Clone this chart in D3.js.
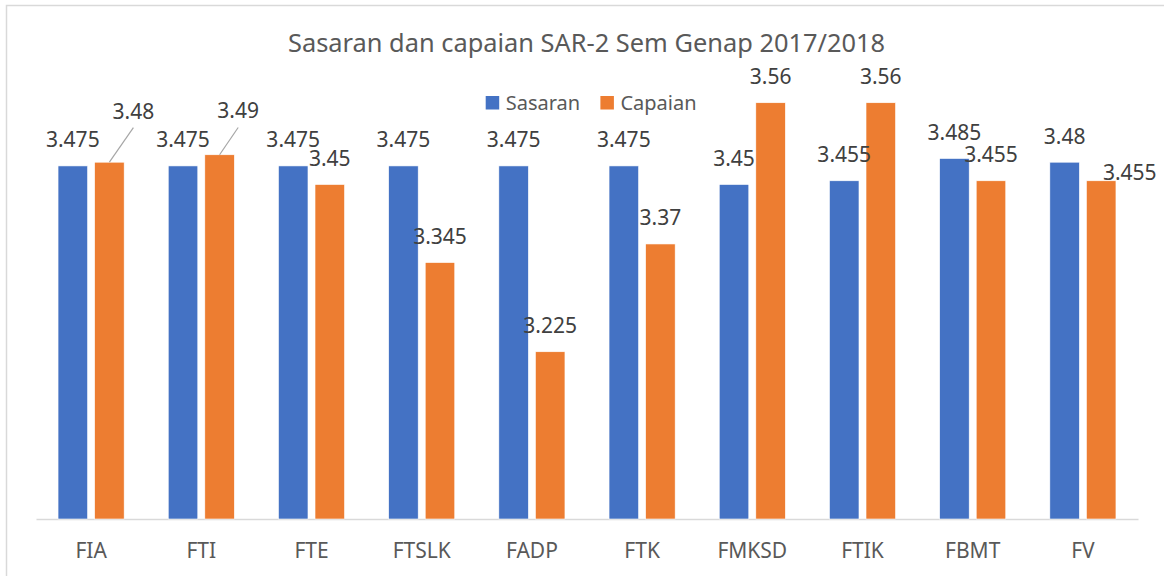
<!DOCTYPE html>
<html>
<head>
<meta charset="utf-8">
<script src="https://cdn.jsdelivr.net/npm/d3@7"></script>
<style>
  html, body { margin: 0; padding: 0; background: #fff; }
  svg { display: block; font-family: "Noto Sans", sans-serif; }
</style>
</head>
<body>
<div id="diagram"></div>
<script>
// data
const categories = ['FIA', 'FTI', 'FTE', 'FTSLK', 'FADP', 'FTK', 'FMKSD', 'FTIK', 'FBMT', 'FV'];
const seriesNames = ['Sasaran', 'Capaian'];
const sasaran = [3.475, 3.475, 3.475, 3.475, 3.475, 3.475, 3.45, 3.455, 3.485, 3.48];
const capaian = [3.48, 3.49, 3.45, 3.345, 3.225, 3.37, 3.56, 3.56, 3.455, 3.455];
const chartTitle = 'Sasaran dan capaian SAR-2 Sem Genap 2017/2018';

!(function () {
  'use strict'
  // - - - - - - - - - -
  let
    canvas = {
      width: 1164,
      height: 576,
      plot: { left: 36, right: 1138, top: 73, bottom: 519 }
    },
    colors = { Sasaran: '#4472C4', Capaian: '#ED7D31' },
    // labels that Excel moved by hand: [dx, dy, leader line]
    labelMoves = {
      'FIA|Capaian': [24, -25, true],
      'FTI|Capaian': [18.6, -17.8, true],
      'FV|Capaian': [28.6, 17.6, false]
    },
    rows = categories.map(function (c, i) {
      return { cat: c, Sasaran: sasaran[i], Capaian: capaian[i] };
    }),
    svg, x0, x1, y, xAxis, bars, labels;

  svg = d3.select('#diagram')
    .append('svg')
    .attr('width', canvas.width)
    .attr('height', canvas.height);

  // chart frame (right/bottom edges fall outside the picture)
  svg.append('rect')
    .attr('x', 6.5)
    .attr('y', 5.5)
    .attr('width', 1160)
    .attr('height', 580)
    .attr('fill', '#fff')
    .attr('stroke', '#d9d9d9')
    .attr('stroke-width', 1.5);

  x0 = d3.scaleBand()
    .domain(categories)
    .range([canvas.plot.left, canvas.plot.right])
    .padding(0);

  let half = x0.bandwidth() * 0.3;
  x1 = d3.scaleBand()
    .domain(seriesNames)
    .range([x0.bandwidth() / 2 - half, x0.bandwidth() / 2 + half])
    .paddingInner(0.192)
    .paddingOuter(0);

  y = d3.scaleLinear()
    .domain([3.0, 3.6])
    .range([canvas.plot.bottom, canvas.plot.top]);

  // title
  svg.append('text')
    .attr('x', 586.5)
    .attr('y', 52)
    .attr('text-anchor', 'middle')
    .attr('fill', '#595959')
    .attr('font-size', 25.4)
    .text(chartTitle);

  // legend
  let legend = svg.append('g').selectAll('g')
    .data(seriesNames)
    .enter()
    .append('g')
    .attr('transform', function (d, i) {
      return 'translate(' + [485.7, 600.4][i] + ', 96)';
    });
  legend.append('rect')
    .attr('width', 13.5)
    .attr('height', 13.5)
    .attr('fill', function (d) { return colors[d]; });
  legend.append('text')
    .attr('x', 20)
    .attr('y', 13.5)
    .attr('fill', '#595959')
    .attr('font-size', 20)
    .text(function (d) { return d; });

  // x axis
  xAxis = d3.axisBottom(x0)
    .tickSize(0)
    .tickSizeOuter(0)
    .tickPadding(24);

  let axisG = svg.append('g')
    .attr('transform', 'translate(0,' + canvas.plot.bottom + ')')
    .call(xAxis);
  axisG.select('.domain')
    .attr('stroke', '#d9d9d9')
    .attr('stroke-width', 1.5);
  axisG.selectAll('text')
    .attr('font-size', 21)
    .attr('font-family', '"Noto Sans", sans-serif')
    .attr('fill', '#595959');

  // bars
  let groups = svg.append('g').selectAll('g')
    .data(rows)
    .enter()
    .append('g')
    .attr('transform', function (d) { return 'translate(' + x0(d.cat) + ',0)'; });

  bars = groups.selectAll('rect')
    .data(function (d) {
      return seriesNames.map(function (s) { return { cat: d.cat, key: s, value: d[s] }; });
    })
    .enter()
    .append('rect')
    .attr('x', function (d) { return x1(d.key); })
    .attr('y', function (d) { return y(d.value); })
    .attr('width', x1.bandwidth())
    .attr('height', function (d) { return canvas.plot.bottom - y(d.value); })
    .attr('fill', function (d) { return colors[d.key]; })
    .attr('stroke', '#fff')
    .attr('stroke-width', 0.6);

  // data labels
  labels = groups.selectAll('g.lbl')
    .data(function (d) {
      return seriesNames.map(function (s) { return { cat: d.cat, key: s, value: d[s] }; });
    })
    .enter()
    .append('g')
    .attr('class', 'lbl');

  labels.each(function (d) {
    let g = d3.select(this),
      mv = labelMoves[d.cat + '|' + d.key] || [0, 0, false],
      cx = x1(d.key) + x1.bandwidth() / 2,
      top = y(d.value),
      lx = cx + mv[0],
      ly = top - 18.5 + mv[1];
    if (mv[2]) {
      g.append('line')
        .attr('x1', lx)
        .attr('y1', ly + 9)
        .attr('x2', cx)
        .attr('y2', top)
        .attr('stroke', '#a6a6a6')
        .attr('stroke-width', 1.2);
    }
    g.append('text')
      .attr('x', lx)
      .attr('y', ly)
      .attr('text-anchor', 'middle')
      .attr('fill', '#404040')
      .attr('font-size', 21)
      .text(d.value);
  });
  // - - - - - - - - - -
}())
</script>
</body>
</html>
